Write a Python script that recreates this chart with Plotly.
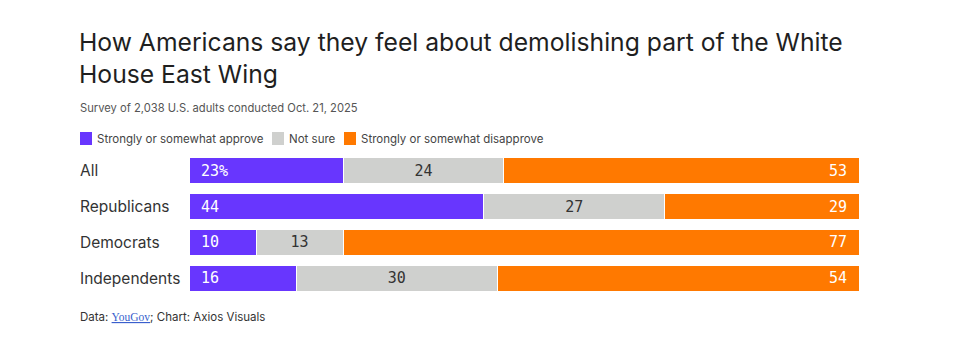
import plotly.graph_objects as go

categories = ["All", "Republicans", "Democrats", "Independents"]
approve = [23, 44, 10, 16]
not_sure = [24, 27, 13, 30]
disapprove = [53, 29, 77, 54]
series_names = ["Strongly or somewhat approve", "Not sure", "Strongly or somewhat disapprove"]

PURPLE = "#6836fe"
GREY = "#cfd0ce"
ORANGE = "#ff7900"
TEXT = "#333333"
MONO = "DejaVu Sans Mono"
SANS = "Inter"
NB = "\u00a0"

fig = go.Figure()
specs = [
    (approve, series_names[0], PURPLE, "white", "start"),
    (not_sure, series_names[1], GREY, "#333333", "middle"),
    (disapprove, series_names[2], ORANGE, "white", "end"),
]
for k, (vals, name, color, tcolor, anchor) in enumerate(specs):
    txt = []
    for i, v in enumerate(vals):
        s = f"{v}%" if (k == 0 and i == 0) else str(v)
        if anchor == "start":
            s = NB + s
        elif anchor == "end":
            s = s + NB
        txt.append(s)
    fig.add_trace(go.Bar(
        y=categories, x=vals, orientation="h", name=name,
        marker=dict(color=color, line=dict(color="white", width=1)),
        text=txt, textposition="inside", insidetextanchor=anchor,
        textangle=0,
        textfont=dict(family=MONO, size=15, color=tcolor),
        hoverinfo="skip", showlegend=False,
    ))

OFF = 8  # page offset of the plot div
W, H = 960, 363
L, R, T, B = 189 - OFF, 960 - (859 - OFF), 153 - OFF, 363 - (296 - OFF)
pw = W - L - R
ph = H - T - B

def px(x):
    return (x - OFF - L) / pw

def py(y):
    return 1 - (y - OFF - T) / ph

annotations = []
for c in categories:
    annotations.append(dict(x=px(78), y=c, xref="paper", yref="y", text=c,
                            showarrow=False, xanchor="left", yanchor="middle",
                            font=dict(family=SANS, size=15.5, color=TEXT)))
annotations.append(dict(x=px(77), y=py(25), xref="paper", yref="paper",
                        text="How Americans say they feel about demolishing part of the White<br>House East Wing",
                        showarrow=False, xanchor="left", yanchor="top", align="left",
                        font=dict(family=SANS, size=24.7, color="#1f1f1f")))
annotations.append(dict(x=px(78), y=py(108), xref="paper", yref="paper",
                        text="Survey of 2,038 U.S. adults conducted Oct. 21, 2025",
                        showarrow=False, xanchor="left", yanchor="middle",
                        font=dict(family=SANS, size=11.2, color="#555555")))
annotations.append(dict(x=px(78), y=py(317), xref="paper", yref="paper",
                        text="Data: <span style='font-family:Liberation Serif;color:#3a5fcd;text-decoration:underline'>YouGov</span>; Chart: Axios Visuals",
                        showarrow=False, xanchor="left", yanchor="middle",
                        font=dict(family=SANS, size=11.5, color=TEXT)))

shapes = []
legend_x = [80, 272, 344]
legend_colors = [PURPLE, GREY, ORANGE]
for lx, col, name in zip(legend_x, legend_colors, series_names):
    shapes.append(dict(type="rect", xref="paper", yref="paper",
                       x0=px(lx), x1=px(lx + 12), y0=py(145), y1=py(132),
                       fillcolor=col, line=dict(width=0)))
    annotations.append(dict(x=px(lx + 15), y=py(138.5), xref="paper", yref="paper",
                            text=name, showarrow=False, xanchor="left", yanchor="middle",
                            font=dict(family=SANS, size=11.5, color="#444444")))

fig.update_layout(
    width=W, height=H,
    margin=dict(l=L, r=R, t=T, b=B),
    barmode="stack", bargap=0.27,
    plot_bgcolor="white", paper_bgcolor="white",
    xaxis=dict(range=[0, 100], visible=False, fixedrange=True),
    yaxis=dict(autorange="reversed", visible=False, fixedrange=True),
    annotations=annotations, shapes=shapes,
    uniformtext=dict(minsize=15, mode="show"),
)

fig.write_html("out.html")
